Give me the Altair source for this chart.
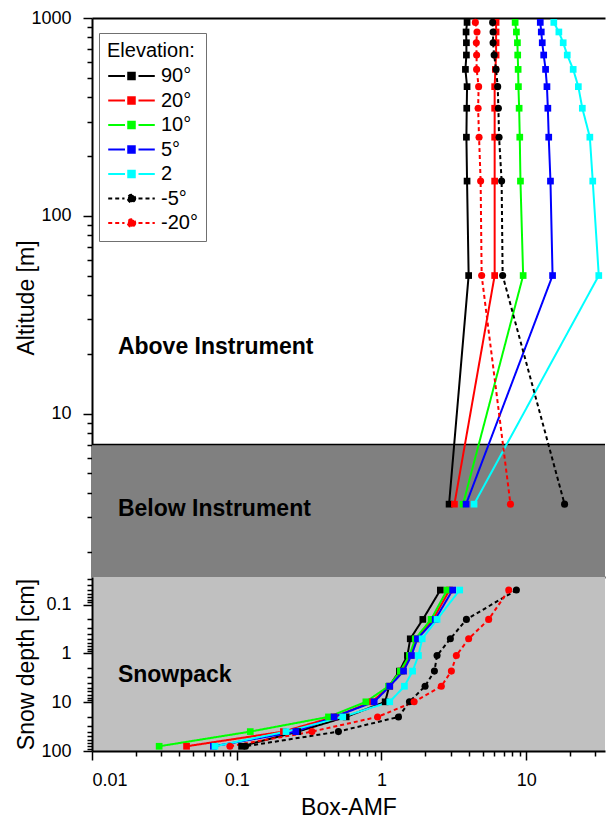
import math
import altair as alt
import pandas as pd

# ---------------- data ----------------
series = ["90°", "20°", "10°", "5°", "2", "-5°", "-20°"]
colors = ["#000000", "#ff0000", "#00ff00", "#0000ff", "#00ffff", "#000000", "#ff0000"]
square_series = ["90°", "20°", "10°", "5°", "2"]
circle_series = ["-5°", "-20°"]

# altitude layers [m] (last value = below the instrument)
altitude_m = [950, 850, 750, 650, 550, 450, 350, 250, 150, 50, 3.5]
air_90 = [3.90, 3.84, 3.86, 3.86, 3.80, 3.90, 3.88, 3.86, 3.90, 4.00, 2.93]
air_20 = [6.19, 6.19, 6.19, 6.19, 6.12, 6.05, 6.05, 6.05, 6.05, 6.05, 3.19]
air_10 = [8.38, 8.55, 8.69, 8.73, 8.79, 8.83, 8.93, 9.02, 9.12, 9.52, 3.66]
air_5 = [12.5, 12.7, 12.9, 13.2, 13.6, 13.9, 14.1, 14.3, 14.7, 15.2, 3.84]
air_2 = [15.5, 16.8, 18.0, 19.2, 21.1, 22.9, 24.4, 27.5, 28.8, 31.7, 4.36]
air_m5 = [5.86, 5.90, 5.90, 6.00, 6.19, 6.35, 6.42, 6.49, 6.76, 6.87, 18.4]
air_m20 = [4.45, 4.57, 4.52, 4.54, 4.54, 4.69, 4.65, 4.72, 4.84, 4.92, 7.78]

# snow layers [cm]
snow_depth_cm = [0.05, 0.2, 0.5, 1.1, 2.3, 4.7, 9.8, 20, 40, 80]
snow_90 = [2.55, 1.93, 1.58, 1.51, 1.33, 1.13, 1.06, 0.57, 0.264, 0.108]
snow_20 = [2.95, 2.27, 1.75, 1.58, 1.38, 1.14, 0.86, 0.47, 0.21, 0.045]
snow_10 = [2.84, 2.20, 1.71, 1.56, 1.35, 1.12, 0.78, 0.43, 0.124, 0.0291]
snow_5 = [3.10, 2.35, 1.77, 1.61, 1.42, 1.14, 0.89, 0.47, 0.256, 0.069]
snow_2 = [3.47, 2.42, 1.91, 1.80, 1.64, 1.44, 1.14, 0.54, 0.219, 0.0707]
snow_m5 = [8.55, 3.86, 2.99, 2.42, 2.32, 2.00, 1.56, 1.31, 0.504, 0.115]
snow_m20 = [7.57, 5.50, 4.00, 3.29, 3.04, 2.59, 1.68, 0.94, 0.331, 0.0897]

instrument_top_m = [7]
panel_bottom_m = [1.5]

air_label_text = ["Above Instrument", "Below Instrument"]
air_label_x = [0.0151, 0.0151]
air_label_y = [21.7, 3.32]
snow_label_text = ["Snowpack"]
snow_label_x = [0.0151]
snow_label_y = [2.79]

# ---------------- tables ----------------
def long_frame(level_name, levels, values_by_series):
    rows = []
    for s, vals in zip(series, values_by_series):
        for i, (lv, v) in enumerate(zip(levels, vals)):
            rows.append({"series": s, level_name: lv, "amf": v, "idx": i})
    return pd.DataFrame(rows)

air_df = long_frame("alt", altitude_m, [air_90, air_20, air_10, air_5, air_2, air_m5, air_m20])
snow_df = long_frame("depth", snow_depth_cm, [snow_90, snow_20, snow_10, snow_5, snow_2, snow_m5, snow_m20])
band_df = pd.DataFrame({"top": instrument_top_m, "bottom": panel_bottom_m})
air_labels_df = pd.DataFrame({"text": air_label_text, "amf": air_label_x, "alt": air_label_y})
snow_labels_df = pd.DataFrame({"text": snow_label_text, "amf": snow_label_x, "depth": snow_label_y})
legend_df = pd.DataFrame({"series": series, "amf": [None] * len(series), "alt": [None] * len(series)})

# ---------------- scales ----------------
FONT = "Liberation Sans"
x_scale = alt.Scale(type="log", domain=[0.01, 35], nice=False)
y_air_scale = alt.Scale(type="log", domain=[1.5, 1000], nice=False)
y_snow_scale = alt.Scale(type="log", domain=[0.027, 100], nice=False, reverse=True)
color_scale = alt.Scale(domain=series, range=colors)
dash_of = {s: ([1, 0] if s in square_series else [4, 3]) for s in series}
dash_scale = alt.Scale(domain=series, range=[dash_of[s] for s in series])

# legend glyphs: line - marker - line
sq_glyph = "M-1,0H-0.28M0.3,0H1M-0.14,-0.14H0.14V0.14H-0.14Z"
_r = 0.16
_poly = "L".join(f"{_r * math.cos(2 * math.pi * k / 16):.3f},{_r * math.sin(2 * math.pi * k / 16):.3f}"
                 for k in range(16))
ci_glyph = "M-1,0H-0.3M0.3,0H1M" + _poly + "Z"
shape_scale = alt.Scale(domain=series, range=[sq_glyph if s in square_series else ci_glyph for s in series])


def log_ticks(lo, hi):
    vals = []
    for e in range(-3, 4):
        for m in range(1, 10):
            v = round(m * 10 ** e, 6)
            if lo - 1e-9 <= v <= hi + 1e-9:
                vals.append(v)
    return vals


def major_axis(values, majors, title, **kw):
    mj = "[" + ",".join(str(m) for m in majors) + "]"
    return alt.Axis(
        values=values,
        labelExpr=f"indexof({mj}, datum.value) >= 0 ? format(datum.value, '~g') : ''",
        tickSize={"condition": {"test": f"indexof({mj}, datum.value) >= 0", "value": 9}, "value": 5},
        tickWidth=1.5, tickColor="black", domainColor="black", domainWidth=2,
        labelFontSize=18, labelColor="black", labelFont=FONT,
        title=title, titleFontSize=23, titleFontWeight="normal", titleColor="black", titleFont=FONT,
        grid=False, **kw)


y_air_axis = major_axis(log_ticks(1.5, 1000), [10, 100, 1000], "Altitude [m]", labelPadding=12, titleX=-54)
y_snow_axis = major_axis(log_ticks(0.027, 100), [0.1, 1, 10, 100], "Snow depth [cm]", labelPadding=12, titleX=-54)
x_axis = major_axis(log_ticks(0.01, 35), [0.01, 0.1, 1, 10], "Box-AMF", labelPadding=11, titlePadding=7)
x_top_line = alt.Axis(orient="top", labels=False, ticks=False, title=None, domainColor="black", domainWidth=2, grid=False)
x_bottom_line = alt.Axis(orient="bottom", labels=False, ticks=False, title=None, domainColor="black", domainWidth=2, grid=False)

legend_def = alt.Legend(
    title="Elevation:", orient="none", legendX=7, legendY=15, direction="vertical", zindex=5,
    titleFontSize=20, titleFontWeight="normal", titleFont=FONT, titleColor="black", titlePadding=5,
    labelFontSize=20, labelFont=FONT, labelColor="black", labelOffset=5,
    labelExpr="datum.label + ' '",
    symbolSize=2170, symbolStrokeWidth=2, symbolOpacity=1, clipHeight=20, rowPadding=4.5,
    padding=8, strokeColor="#707070", fillColor="white", cornerRadius=0)


def series_layers(df, level, y_scale, y_axis, first_x_axes, other_x_axis):
    layers = []
    for k, (s, c) in enumerate(zip(series, colors)):
        sub = df[df["series"] == s]
        line_axis = first_x_axes[0] if k == 0 else other_x_axis
        layers.append(alt.Chart(sub).mark_line(color=c, strokeWidth=2, strokeDash=dash_of[s]).encode(
            x=alt.X("amf:Q", scale=x_scale, axis=line_axis),
            y=alt.Y(f"{level}:Q", scale=y_scale, axis=y_axis),
            order=alt.Order("idx:Q")))
    for k, (s, c) in enumerate(zip(series, colors)):
        sub = df[df["series"] == s]
        pt_axis = first_x_axes[1] if k == 0 else other_x_axis
        is_sq = s in square_series
        layers.append(alt.Chart(sub).mark_point(
            shape="square" if is_sq else "circle", filled=True, size=45 if is_sq else 50,
            opacity=1, color=c).encode(
            x=alt.X("amf:Q", scale=x_scale, axis=pt_axis),
            y=alt.Y(f"{level}:Q", scale=y_scale, axis=y_axis)))
    return layers


# ---------------- top panel ----------------
band = alt.Chart(band_df).mark_rect(color="#808080").encode(
    y=alt.Y("top:Q", scale=y_air_scale, axis=y_air_axis), y2="bottom:Q")
band_line = alt.Chart(band_df).mark_rule(color="black", strokeWidth=1.5).encode(
    y=alt.Y("top:Q", scale=y_air_scale, axis=y_air_axis))
air_text = alt.Chart(air_labels_df).mark_text(align="left", baseline="middle", fontSize=23, fontWeight="bold",
                                             color="black", font=FONT).encode(
    x=alt.X("amf:Q", scale=x_scale, axis=None),
    y=alt.Y("alt:Q", scale=y_air_scale, axis=y_air_axis),
    text="text:N")
legend_layer = alt.Chart(legend_df).mark_point(filled=True, opacity=1, strokeWidth=2).encode(
    x=alt.X("amf:Q", scale=x_scale, axis=None),
    y=alt.Y("alt:Q", scale=y_air_scale, axis=y_air_axis),
    color=alt.Color("series:N", scale=color_scale, legend=legend_def),
    stroke=alt.Stroke("series:N", scale=color_scale, legend=legend_def),
    shape=alt.Shape("series:N", scale=shape_scale, legend=legend_def),
    strokeDash=alt.StrokeDash("series:N", scale=dash_scale, legend=legend_def))

air_layers = series_layers(air_df, "alt", y_air_scale, y_air_axis, (x_top_line, x_bottom_line), None)
top = alt.layer(band, band_line, *air_layers, air_text, legend_layer).resolve_axis(
    x="independent").properties(width=513, height=559)

# ---------------- bottom panel ----------------
snow_layers = series_layers(snow_df, "depth", y_snow_scale, y_snow_axis, (x_axis, x_axis), x_axis)
snow_text = alt.Chart(snow_labels_df).mark_text(align="left", baseline="middle", fontSize=23, fontWeight="bold",
                                               color="black", font=FONT).encode(
    x=alt.X("amf:Q", scale=x_scale, axis=x_axis),
    y=alt.Y("depth:Q", scale=y_snow_scale, axis=y_snow_axis),
    text="text:N")

bottom = alt.layer(*snow_layers, snow_text).properties(
    width=513, height=174, view=alt.ViewBackground(fill="#c0c0c0", stroke=None))

chart = alt.vconcat(top, bottom, spacing=0, bounds="flush").properties(
    padding={"left": 15, "top": 9, "right": 0, "bottom": 0}
).configure(font=FONT).configure_view(stroke=None)

chart.save("out.html", embed_options={"renderer": "svg", "actions": False})
